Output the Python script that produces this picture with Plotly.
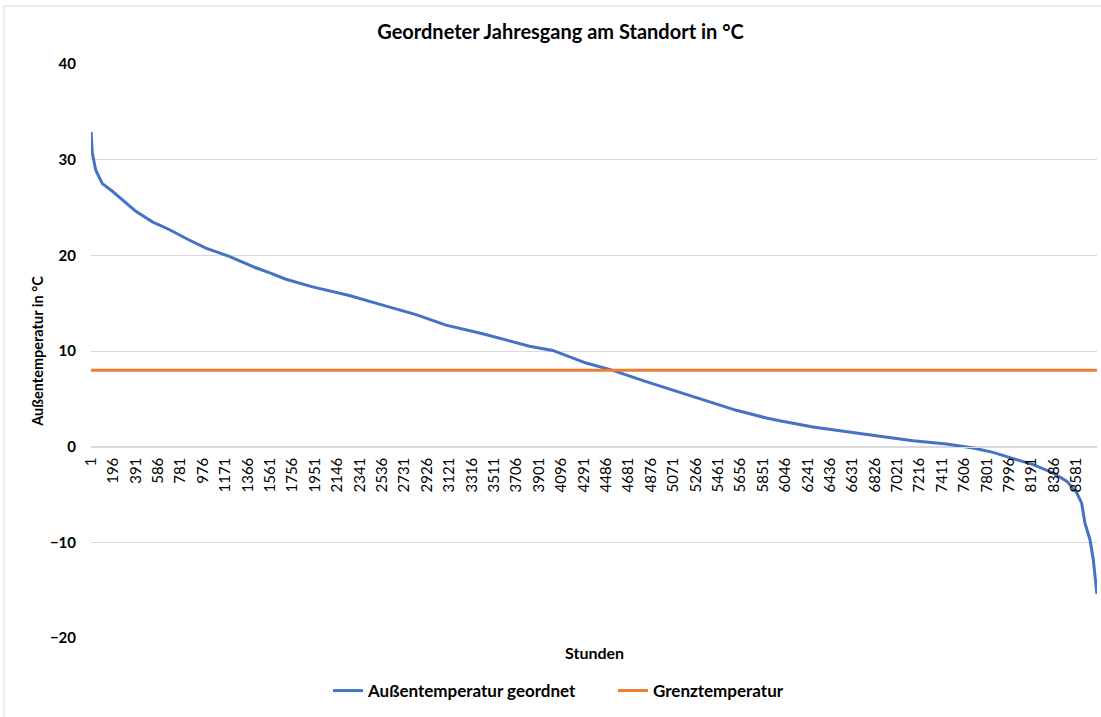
import plotly.graph_objects as go

# Ordered annual temperature curve
stunden = [1, 12, 42, 99, 187, 274, 391, 535, 681, 855, 1001, 1204, 1436, 1552,
           1698, 1930, 2250, 2540, 2831, 3092, 3411, 3818, 4021, 4312, 4544,
           4835, 5097, 5358, 5620, 5881, 5997, 6287, 6578, 6869, 7159, 7450,
           7682, 7856, 8031, 8205, 8379, 8496, 8583, 8627, 8655, 8699, 8728, 8760]
aussentemp = [32.9, 30.7, 28.9, 27.5, 26.7, 25.8, 24.6, 23.5, 22.7, 21.6, 20.75,
              19.9, 18.7, 18.2, 17.5, 16.7, 15.8, 14.8, 13.8, 12.7, 11.8, 10.5,
              10.06, 8.74, 7.97, 6.8, 5.8, 4.73, 3.8, 3.0, 2.7, 2.05, 1.53, 1.08,
              0.63, 0.28, -0.14, -0.6, -1.25, -1.88, -2.75, -3.6, -4.8, -5.9,
              -7.97, -9.7, -11.8, -15.4]
grenz_stunden = [1, 8760]
grenztemp = [8, 8]

tick_hours = [1, 196, 391, 586, 781, 976, 1171, 1366, 1561, 1756, 1951, 2146,
              2341, 2536, 2731, 2926, 3121, 3316, 3511, 3706, 3901, 4096, 4291,
              4486, 4681, 4876, 5071, 5266, 5461, 5656, 5851, 6046, 6241, 6436,
              6631, 6826, 7021, 7216, 7411, 7606, 7801, 7996, 8191, 8386, 8581]
y_ticks = [-20, -10, 0, 10, 20, 30, 40]

FONT = "Lato"
BLK = "#000000"

fig = go.Figure()
fig.add_trace(go.Scatter(x=stunden, y=aussentemp, mode="lines",
                         name="Außentemperatur geordnet",
                         line=dict(color="#4472C4", width=3)))
fig.add_trace(go.Scatter(x=grenz_stunden, y=grenztemp, mode="lines",
                         name="Grenztemperatur",
                         line=dict(color="#ED7D31", width=3)))

L, R, T, B = 91, 4, 64, 79
W, H = 1101 - L - R, 717 - T - B

fig.update_layout(
    width=1101, height=717,
    margin=dict(l=L, r=R, t=T, b=B),
    paper_bgcolor="white", plot_bgcolor="white",
    font=dict(family=FONT, color=BLK),
    title=dict(text="Geordneter Jahresgang am Standort in °C",
               x=560.5 / 1101, xanchor="center", xref="container",
               y=1 - 32 / 717, yanchor="middle", yref="container",
               font=dict(size=20, family=FONT, color=BLK, weight="bold")),
    showlegend=True,
    legend=dict(orientation="h", x=(340 - 12 - L) / W, xanchor="left",
                y=(T + H - 691) / H, yanchor="middle",
                font=dict(size=17, family=FONT, color=BLK, weight="bold"),
                itemwidth=30, entrywidth=240, entrywidthmode="pixels",
                bgcolor="rgba(0,0,0,0)"),
    xaxis=dict(range=[0.5, 8760.5], tickmode="array", tickvals=tick_hours,
               ticktext=[str(t) for t in tick_hours], tickangle=-90,
               tickfont=dict(size=15, family=FONT, color=BLK),
               showgrid=False, zeroline=False,
               showline=True, linecolor="#d9d9d9", linewidth=1,
               anchor="free", position=1 / 3, ticks="", ticklabelstandoff=4),
    yaxis=dict(range=[-20, 40], tickmode="array", tickvals=y_ticks,
               tickfont=dict(size=15, family=FONT, color=BLK, weight="bold"),
               showgrid=True, gridcolor="#d9d9d9", gridwidth=1,
               zeroline=False, showline=False, ticks="",
               ticklabelstandoff=14,
               title=dict(text="Außentemperatur in °C",
                          font=dict(size=14.5, family=FONT, color=BLK,
                                    weight="bold"),
                          standoff=2)),
    annotations=[dict(text="Stunden", xref="paper", yref="paper",
                      x=0.5, y=(T + H - 653) / H, xanchor="center",
                      yanchor="middle", showarrow=False,
                      font=dict(size=16, family=FONT, color=BLK, weight="bold"))],
    shapes=[dict(type="rect", xref="paper", yref="paper",
                 x0=(4 - L) / W, x1=1.2, y0=-0.3, y1=(T + H - 6) / H,
                 line=dict(color="#d9d9d9", width=1), fillcolor="rgba(0,0,0,0)",
                 layer="below")],
)

fig.write_html("out.html", config={"displayModeBar": False},
               post_script="document.body.style.margin='0';"
                           "document.body.style.padding='0';")
